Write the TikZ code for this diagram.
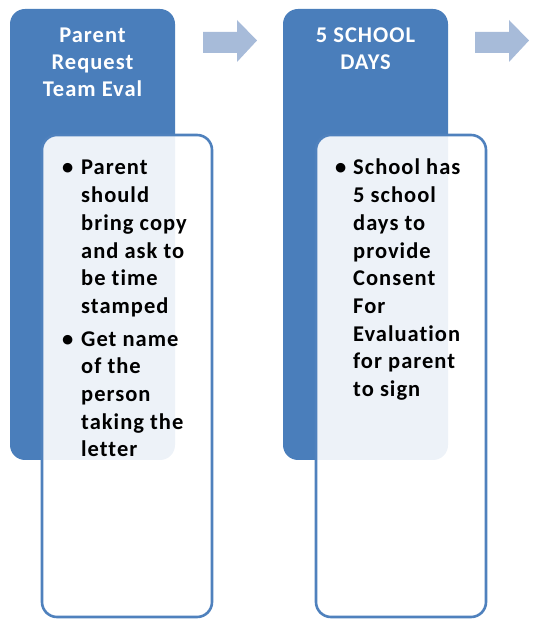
\documentclass[tikz,border=0pt]{standalone}
\usepackage{fontspec}
\setmainfont{Carlito}[Ligatures = NoCommon, LetterSpace = 4.5]

\definecolor{stepblue}{HTML}{4A7EBB}
\definecolor{edgeblue}{HTML}{4F81BD}
\definecolor{arrowblue}{HTML}{A7BBD9}

\begin{document}
\begin{tikzpicture}[x = 1pt, y = 1pt,
        titlebox/.style = {fill = stepblue, rounded corners = 15pt},
        notebox/.style = {draw = edgeblue, line width = 2.6pt, fill = white,
            fill opacity = 0.9, rounded corners = 15pt},
        titletext/.style = {align = center, text = white, inner sep = 0,
            font = \bfseries\fontsize{22.5}{27}\selectfont},
        notetext/.style = {anchor = base west, inner sep = 0,
            font = \bfseries\fontsize{22.5}{27.7}\selectfont}]

        \useasboundingbox (0, 0) rectangle (554, 621);

        % Dark title panels for the two steps.
        \fill[titlebox] (10, 612) rectangle (175, 161);
        \fill[titlebox] (283, 612) rectangle (448, 161);

        % Block arrows to the right of each panel.
        \fill[arrowblue] (203, 589) -- (237, 589) -- (237, 601) -- (257, 580.5)
            -- (237, 559) -- (237, 568) -- (203, 568) -- cycle;
        \fill[arrowblue] (475, 589) -- (509, 589) -- (509, 601) -- (529, 580.5)
            -- (509, 559) -- (509, 568) -- (475, 568) -- cycle;

        % Light note cards laid over the lower part of the panels.
        \draw[notebox] (42, 486) rectangle (212, 4);
        \draw[notebox] (316, 486) rectangle (486, 4);

        % Titles.
        \node[titletext] (request) at (92.5, 559) {Parent\\Request\\Team Eval};
        \node[titletext] (days) at (365.5, 572.5) {5 SCHOOL\\DAYS};

        % Bullet notes.
        \node[notetext] (requestnote) at (62, 446) {%
            \begin{tabular}[t]{@{}p{19pt}@{}l@{}}
                \textbullet & Parent\\
                & should\\
                & bring copy\\
                & and ask to\\
                & be time\\
                & stamped\\[5pt]
                \textbullet & Get name\\
                & of the\\
                & person\\
                & taking the\\
                & letter
            \end{tabular}};
        \node[notetext] (daysnote) at (335, 446) {%
            \begin{tabular}[t]{@{}p{18pt}@{}l@{}}
                \textbullet & School has\\
                & 5 school\\
                & days to\\
                & provide\\
                & Consent\\
                & For\\
                & Evaluation\\
                & for parent\\
                & to sign
            \end{tabular}};
    \end{tikzpicture}
\end{document}
